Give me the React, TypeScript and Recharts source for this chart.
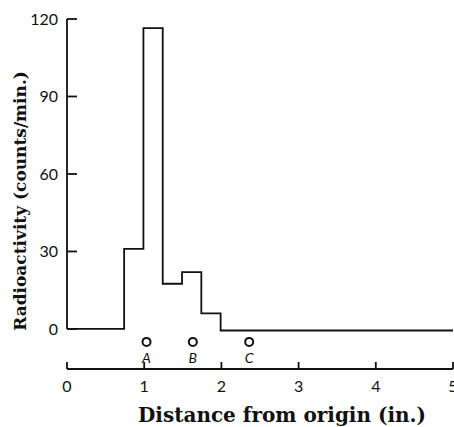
import { ComposedChart, Line, Scatter, XAxis, YAxis, ReferenceLine, Label } from "recharts";

// histogram bins (inches) and counts/min in each bin
const BIN_EDGES = [0, 0.74, 0.99, 1.24, 1.49, 1.74, 1.99, 5];
const COUNTS = [0, 31, 116.5, 17.5, 22, 6, -0.6];

// marker spots below the trace
const SPOT_NAMES = ["A", "B", "C"];
const SPOT_X = [1.03, 1.63, 2.36];
const SPOT_Y = -5;

const Y_TICKS = [0, 30, 60, 90, 120];
const X_TICKS = [0, 1, 2, 3, 4, 5];

const INK = "#111";
const TICK_FONT = "Lato, 'Open Sans', sans-serif";
const TITLE_FONT = "'DejaVu Serif', 'Liberation Serif', serif";

const stepData = BIN_EDGES.map((x, i) => ({ x, y: COUNTS[Math.min(i, COUNTS.length - 1)] }));
const spotData = SPOT_NAMES.map((name, i) => ({ name, x: SPOT_X[i], y: SPOT_Y }));

function YTick(props: any) {
    const { x, y, payload } = props;
    return (
        <g>
            <line x1={x} y1={y} x2={x + 10} y2={y} stroke={INK} strokeWidth={1.8} />
            <text x={x - 9} y={y + 6} textAnchor="end" fontSize={16} fontFamily={TICK_FONT} fill={INK}>
                {payload.value}
            </text>
        </g>
    );
}

function XTick(props: any) {
    const { x, y, payload } = props;
    return (
        <g>
            <line x1={x} y1={y} x2={x} y2={y - 7} stroke={INK} strokeWidth={1.8} />
            <text x={x} y={y + 23} textAnchor="middle" fontSize={16} fontFamily={TICK_FONT} fill={INK}>
                {payload.value}
            </text>
        </g>
    );
}

function Spot(props: any) {
    const { cx, cy, payload } = props;
    return (
        <g>
            <circle cx={cx} cy={cy} r={4} fill="#fff" stroke={INK} strokeWidth={2} />
            <text x={cx} y={cy + 21} textAnchor="middle" fontSize={14} fontStyle="italic" fontFamily={TICK_FONT} fill={INK}>
                {payload.name}
            </text>
        </g>
    );
}

export default function App() {
    return (
        <div style={{ position: "absolute", left: 0, top: 0, background: "#fff" }}>
            <ComposedChart width={454} height={427} margin={{ top: 19, right: 1, bottom: 0, left: 0 }}>
                <XAxis
                    type="number"
                    dataKey="x"
                    domain={[0, 5]}
                    ticks={X_TICKS}
                    interval={0}
                    tickLine={false}
                    tickSize={0}
                    tickMargin={0}
                    tick={<XTick />}
                    axisLine={{ stroke: INK, strokeWidth: 1.8 }}
                    height={58}
                >
                    <Label
                        content={({ viewBox }: any) => (
                            <text
                                x={viewBox.x + viewBox.width / 2 + 22}
                                y={viewBox.y + 53}
                                textAnchor="middle"
                                fontSize={20}
                                fontWeight="bold"
                                fontFamily={TITLE_FONT}
                                fill={INK}
                            >
                                Distance from origin (in.)
                            </text>
                        )}
                    />
                </XAxis>
                <YAxis
                    type="number"
                    dataKey="y"
                    domain={[-15.5, 120]}
                    ticks={Y_TICKS}
                    interval={0}
                    axisLine={false}
                    tickLine={false}
                    tickSize={0}
                    tickMargin={0}
                    tick={<YTick />}
                    width={67}
                >
                    <Label
                        content={({ viewBox }: any) => {
                            const cx = viewBox.x + 20;
                            const cy = viewBox.y + viewBox.height / 2 + 7;
                            return (
                                <text
                                    x={cx}
                                    y={cy}
                                    transform={`rotate(-90, ${cx}, ${cy})`}
                                    textAnchor="middle"
                                    dominantBaseline="central"
                                    fontSize={17}
                                    fontWeight="bold"
                                    fontFamily={TITLE_FONT}
                                    fill={INK}
                                >
                                    Radioactivity (counts/min.)
                                </text>
                            );
                        }}
                    />
                </YAxis>
                <ReferenceLine
                    segment={[{ x: 0, y: 0 }, { x: 0, y: 120 }]}
                    stroke={INK}
                    strokeWidth={1.8}
                    ifOverflow="visible"
                />
                <Line
                    data={stepData}
                    dataKey="y"
                    type="stepAfter"
                    stroke={INK}
                    strokeWidth={1.8}
                    dot={false}
                    activeDot={false}
                    isAnimationActive={false}
                />
                <Scatter data={spotData} dataKey="y" shape={<Spot />} isAnimationActive={false} />
            </ComposedChart>
        </div>
    );
}
